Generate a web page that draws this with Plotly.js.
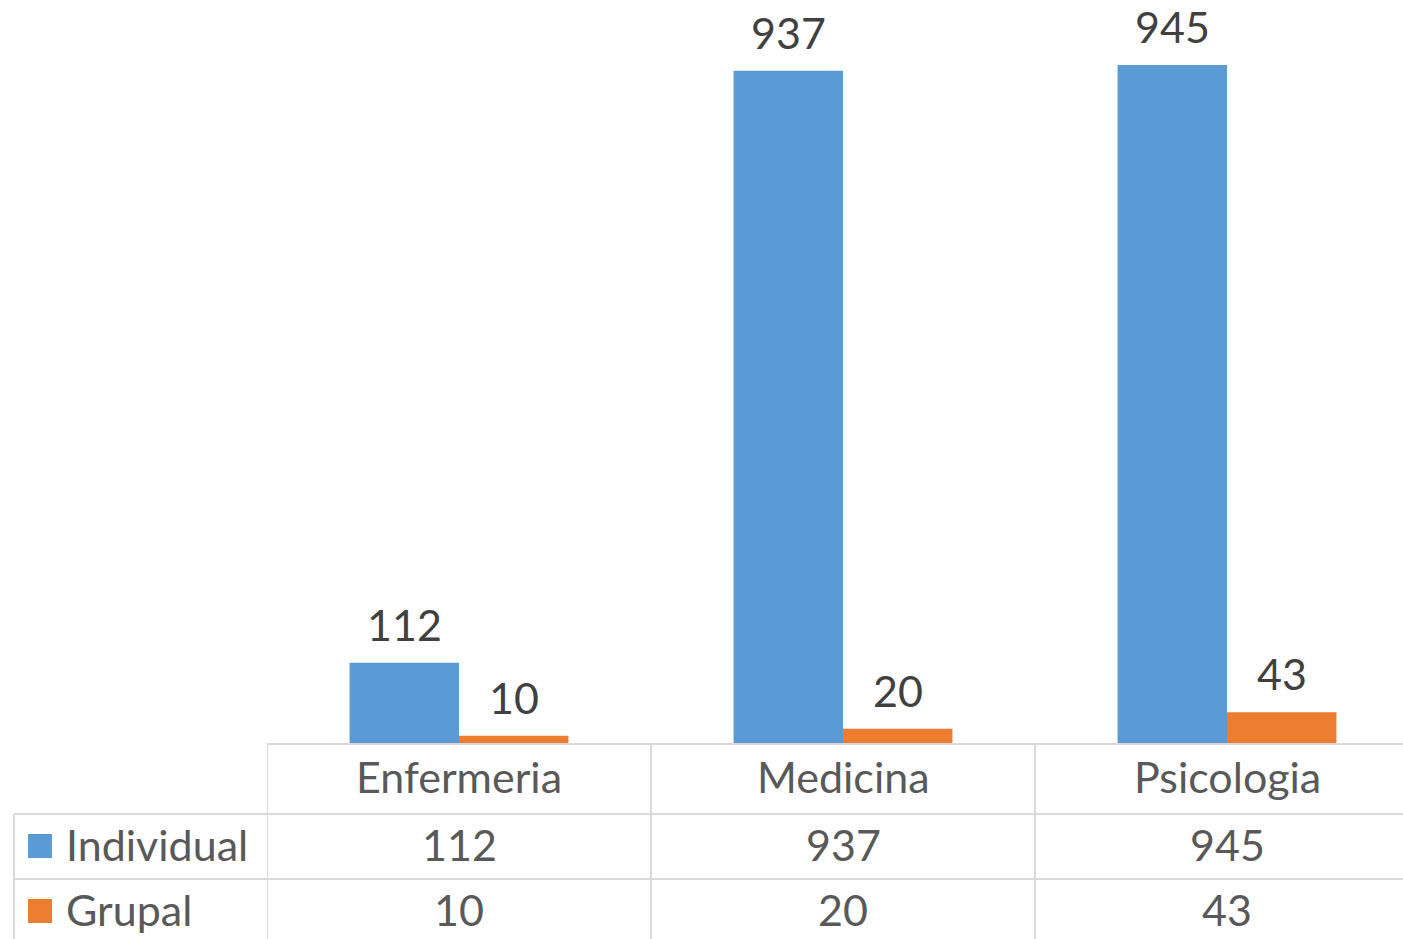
<!DOCTYPE html>
<html><head><meta charset="utf-8">
<script src="https://cdn.plot.ly/plotly-3.0.1.min.js"></script>
<style>html,body{margin:0;padding:0;background:#fff}#c{width:1403px;height:939px}</style>
</head><body><div id="c"></div>
<script>
const categories = ["Enfermeria", "Medicina", "Psicologia"];
const individual = [112, 937, 945];
const grupal = [10, 20, 43];
const seriesNames = ["Individual", "Grupal"];
const seriesValues = [individual, grupal];
const seriesColors = ["#5B9BD5", "#ED7D31"];

const W = 1403, H = 939;
const px = x => x / W;
const py = y => 1 - y / H;
const FONT = "Lato";
const labelColor = "#404040";
const tableColor = "#595959";
const gridColor = "#D9D9D9";
const fs = 43;

const traces = seriesNames.map((n, s) => ({
  type: "bar", name: n, x: categories, y: seriesValues[s],
  marker: {color: seriesColors[s]},
  cliponaxis: false, hoverinfo: "skip"
}));

const rowY = [py(844), py(909)];
const annotations = [];
const offsets = [-55, 55];
categories.forEach((c, i) => {
  annotations.push({x: c, xref: "x", y: py(776), yref: "paper", text: c, showarrow: false,
    font: {family: FONT, size: fs, color: tableColor}, xanchor: "center", yanchor: "middle"});
  seriesValues.forEach((vals, s) => {
    annotations.push({x: c, xref: "x", y: rowY[s], yref: "paper", text: String(vals[i]), showarrow: false,
      font: {family: FONT, size: fs, color: tableColor}, xanchor: "center", yanchor: "middle"});
    annotations.push({x: c, xref: "x", y: vals[i], yref: "y", text: String(vals[i]), showarrow: false,
      xshift: offsets[s], yshift: 11,
      font: {family: FONT, size: fs, color: labelColor}, xanchor: "center", yanchor: "bottom"});
  });
});
seriesNames.forEach((n, s) => {
  annotations.push({x: px(64), xref: "paper", y: rowY[s], yref: "paper", text: n, showarrow: false,
    font: {family: FONT, size: fs, color: tableColor}, xanchor: "left", yanchor: "middle"});
});

const line = {color: gridColor, width: 2};
const shapes = [
  {type: "line", xref: "paper", yref: "paper", x0: px(14), x1: 1, y0: py(814), y1: py(814), line},
  {type: "line", xref: "paper", yref: "paper", x0: px(14), x1: 1, y0: py(879), y1: py(879), line},
  {type: "line", xref: "paper", yref: "paper", x0: px(14), x1: px(14), y0: py(814), y1: 0, line},
  {type: "line", xref: "x", yref: "paper", x0: -0.5, x1: -0.5, y0: py(743), y1: 0, line},
  {type: "line", xref: "x", yref: "paper", x0: 0.5, x1: 0.5, y0: py(743), y1: 0, line},
  {type: "line", xref: "x", yref: "paper", x0: 1.5, x1: 1.5, y0: py(743), y1: 0, line},
];
seriesColors.forEach((col, s) => {
  const cy = s === 0 ? 846 : 911;
  shapes.push({type: "rect", xref: "paper", yref: "paper", x0: px(28), x1: px(52), y0: py(cy - 12), y1: py(cy + 12),
    fillcolor: col, line: {width: 0}});
});

const layout = {
  width: W, height: H, margin: {l: 0, r: 0, t: 0, b: 0},
  paper_bgcolor: "#fff", plot_bgcolor: "#fff",
  showlegend: false, barmode: "group", bargap: 0.43, bargroupgap: 0,
  xaxis: {domain: [px(267), 1], range: [-0.5, -0.5 + 1136 / 384], showticklabels: false, ticks: "",
    showgrid: false, zeroline: false, showline: true, linecolor: gridColor, linewidth: 2, fixedrange: true},
  yaxis: {domain: [py(743), py(743 - 717.5)], range: [0, 1000], visible: false, showgrid: false, zeroline: false, fixedrange: true},
  annotations, shapes
};
Plotly.newPlot("c", traces, layout, {displayModeBar: false, staticPlot: true});
</script></body></html>
